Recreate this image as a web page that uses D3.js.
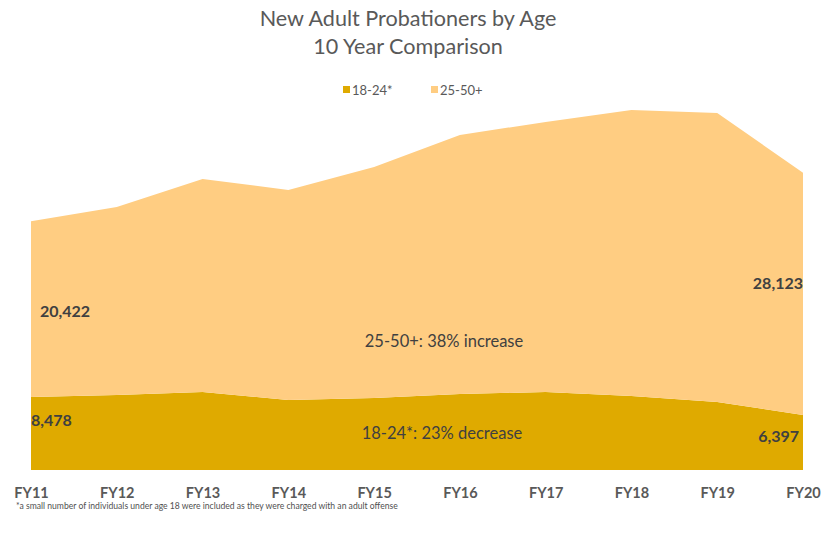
<!DOCTYPE html>
<html>
<head>
<meta charset="utf-8">
<script src="https://cdn.jsdelivr.net/npm/d3@7"></script>
<style>
  html, body { margin: 0; padding: 0; background: #fff; }
  svg { display: block; font-family: Lato, "Open Sans", sans-serif; }
</style>
</head>
<body>
<svg id="chart" width="822" height="544"></svg>
<script>
const years = ["FY11","FY12","FY13","FY14","FY15","FY16","FY17","FY18","FY19","FY20"];
const young = [8478, 8700, 9050, 8130, 8350, 8830, 9050, 8600, 7900, 6397];
const older = [20422, 21850, 24750, 24390, 26840, 30080, 31370, 33210, 33560, 28123];
const seriesNames = ["18-24*", "25-50+"];
const seriesColors = ["#DFAA00", "#FFCD82"];
const titleLines = ["New Adult Probationers by Age", "10 Year Comparison"];
const footnote = "*a small number of individuals under age 18 were included as they were charged with an adult offense";

const table = years.map((y, i) => ({year: y, young: young[i], older: older[i]}));

const svg = d3.select("#chart");
const x = d3.scalePoint().domain(years).range([31, 803]);
const y = d3.scaleLinear().domain([0, 45000]).range([470, 82.5]);

const stack = d3.stack().keys(["young", "older"]);
const layers = stack(table);

const area = d3.area()
  .x(d => x(d.data.year))
  .y0(d => y(d[0]))
  .y1(d => y(d[1]));

svg.append("g").selectAll("path")
  .data(layers)
  .join("path")
  .attr("d", area)
  .attr("fill", (d, i) => seriesColors[i]);

// Title
svg.append("g").selectAll("text")
  .data(titleLines)
  .join("text")
  .attr("x", 408)
  .attr("y", (d, i) => 26 + i * 28)
  .attr("text-anchor", "middle")
  .attr("font-size", 21.6)
  .attr("fill", "#595959")
  .text(d => d);

// Legend
const legend = svg.append("g").attr("transform", "translate(0,91)");
const legendX = [343, 431];
seriesNames.forEach((name, i) => {
  legend.append("rect")
    .attr("x", legendX[i]).attr("y", -5).attr("width", 7).attr("height", 7)
    .attr("fill", seriesColors[i]);
  legend.append("text")
    .attr("x", legendX[i] + 9).attr("y", 3.5)
    .attr("font-size", 13).attr("fill", "#595959")
    .text(name);
});

// X axis
const xAxis = d3.axisBottom(x).tickSize(0).tickPadding(0);
const gx = svg.append("g").attr("transform", "translate(0,470)").call(xAxis);
gx.select(".domain").remove();
gx.selectAll("text")
  .attr("dy", 0)
  .attr("y", 28)
  .attr("font-family", "Lato, 'Open Sans', sans-serif")
  .attr("font-size", 14.5)
  .attr("font-weight", "bold")
  .attr("fill", "#595959");

// Data labels
const fmt = d3.format(",");
const n = years.length - 1;
const labels = [
  {text: fmt(older[0]), x: x(years[0]) + 9, y: 317, anchor: "start"},
  {text: fmt(young[0]), x: x(years[0]), y: 426, anchor: "start"},
  {text: fmt(older[n]), x: x(years[n]), y: 289, anchor: "end"},
  {text: fmt(young[n]), x: x(years[n]) - 4, y: 442, anchor: "end"}
];
svg.append("g").selectAll("text")
  .data(labels)
  .join("text")
  .attr("x", d => d.x).attr("y", d => d.y)
  .attr("text-anchor", d => d.anchor)
  .attr("font-size", 16)
  .attr("font-weight", "bold")
  .attr("fill", "#404040")
  .text(d => d.text);

const pctOlder = Math.round((older[n] / older[0] - 1) * 100);
const notes = [
  {text: "25-50+: " + pctOlder + "% increase", x: 444, y: 347},
  {text: "18-24*: 23% decrease", x: 442, y: 439}
];
svg.append("g").selectAll("text")
  .data(notes)
  .join("text")
  .attr("x", d => d.x).attr("y", d => d.y)
  .attr("text-anchor", "middle")
  .attr("font-size", 16.5)
  .attr("fill", "#404040")
  .text(d => d.text);

// Footnote
svg.append("text")
  .attr("x", 16).attr("y", 508.5)
  .attr("font-size", 8.6)
  .attr("fill", "#505050")
  .text(footnote);
</script>
</body>
</html>
